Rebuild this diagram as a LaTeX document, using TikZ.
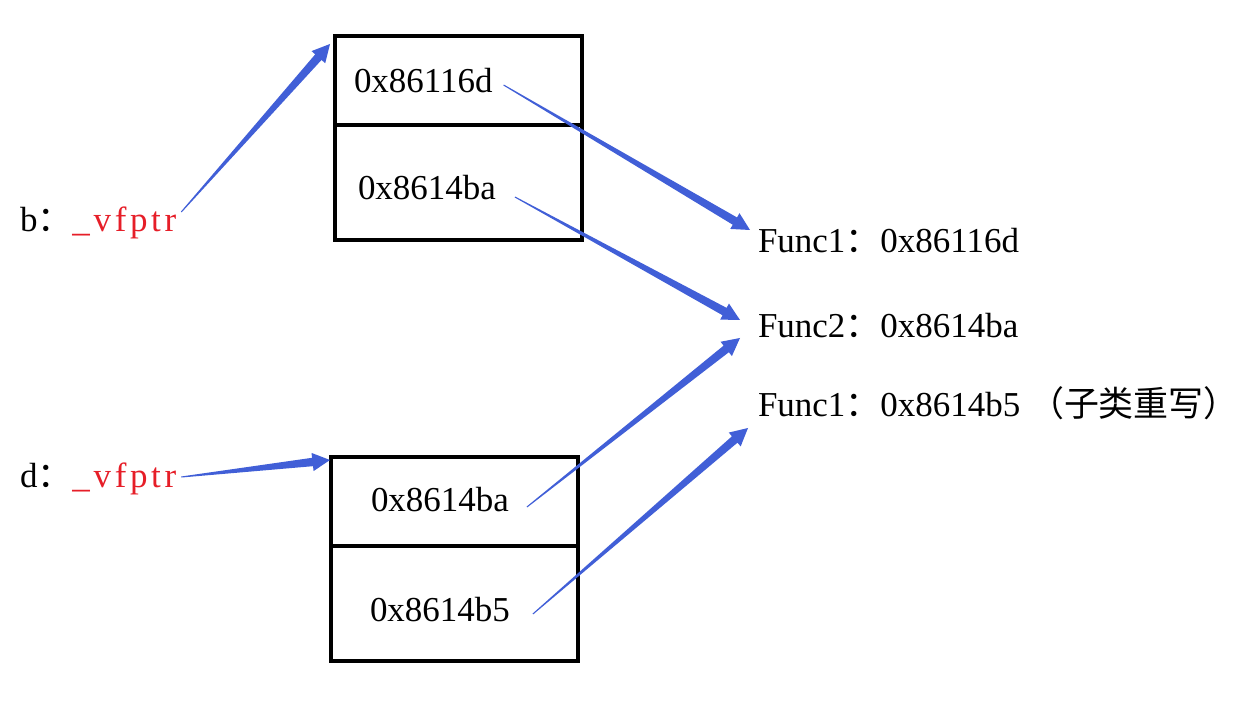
\documentclass[tikz,border=0pt]{standalone}
\usepackage{fontspec}
\setmainfont{Liberation Serif}
\newfontfamily\cjk{Noto Sans CJK SC}
\newfontfamily\vfont{Liberation Serif}[LetterSpace=10.5]
\usetikzlibrary{calc}
\definecolor{ptrblue}{RGB}{65,95,215}
\definecolor{ptrred}{RGB}{230,30,40}

% tapered pointer: thin at #1, wide with a head at #2
\newcommand{\vptr}[2]{%
  \fill[ptrblue] ($(#1)!0.3pt!90:(#2)$)
    -- ($(#2)!10pt!(#1)!2.4pt!90:(#2)$)
    -- ($(#2)!10pt!(#1)!5.2pt!90:(#2)$)
    -- (#2)
    -- ($(#2)!10pt!(#1)!5.2pt!-90:(#2)$)
    -- ($(#2)!10pt!(#1)!2.4pt!-90:(#2)$)
    -- ($(#1)!0.3pt!-90:(#2)$) -- cycle;}

\begin{document}
\begin{tikzpicture}[every node/.style={inner sep=0pt, outer sep=0pt, font=\fontsize{19.9pt}{24pt}\selectfont},
    cell/.style={draw, line width=1.8pt, minimum width=4.94cm},
    cellhi/.style={cell, minimum height=1.78cm},
    celllo/.style={cell, minimum height=2.30cm}]
    \useasboundingbox (0,0) rectangle (24.8,14.2);
    % base table
    \node[cellhi] (t1) at (9.17,12.59) {};
    \node[celllo] (t2) at (9.17,10.55) {};
    \node[anchor=base west] (v1) at (7.08,12.34) {0x86116d};
    \node[anchor=base west] (v2) at (7.16,10.20) {0x8614ba};
    % derived table
    \node[cellhi] (c1) at (9.09,4.17) {};
    \node[celllo] (c2) at (9.09,2.13) {};
    \node[anchor=base west] (v3) at (7.42,3.98) {0x8614ba};
    \node[anchor=base west] (v4) at (7.40,1.78) {0x8614b5};
    % pointers on the left
    \node[anchor=base west] (b) at (0.40,9.56) {b{\cjk ：}\textcolor{ptrred}{\vfont\_vfptr}};
    \node[anchor=base west] (d) at (0.40,4.44) {d{\cjk ：}\textcolor{ptrred}{\vfont\_vfptr}};
    % function entries
    \node[anchor=base west] (f1) at (15.16,9.14) {Func1{\cjk ：}0x86116d};
    \node[anchor=base west] (f2) at (15.16,7.44) {Func2{\cjk ：}0x8614ba};
    \node[anchor=base west] (f3) at (15.16,5.86) {Func1{\cjk ：}0x8614b5 {\cjk （子类重写）}};
    % arrow ends
    \coordinate (bs) at ($(b.base east)+(0.10,0.40)$);
    \coordinate (be) at ($(t1.north west)+(-0.10,-0.16)$);
    \coordinate (ds) at ($(d.base east)+(0.10,0.22)$);
    \coordinate (de) at ($(c1.north west)+(-0.02,-0.06)$);
    \coordinate (v1s) at ($(v1.base east)+(0.22,0.16)$);
    \coordinate (v2s) at ($(v2.base east)+(0.38,0.06)$);
    \coordinate (v3s) at ($(v3.base east)+(0.36,0.08)$);
    \coordinate (v4s) at ($(v4.base east)+(0.46,0.14)$);
    \coordinate (f1e) at ($(f1.base west)+(-0.16,0.46)$);
    \coordinate (f2e) at ($(f2.base west)+(-0.36,0.36)$);
    \coordinate (f2f) at ($(f2.base west)+(-0.36,0.00)$);
    \coordinate (f3e) at ($(f3.base west)+(-0.20,-0.22)$);
    \vptr{bs}{be}
    \vptr{ds}{de}
    \vptr{v1s}{f1e}
    \vptr{v2s}{f2e}
    \vptr{v3s}{f2f}
    \vptr{v4s}{f3e}
\end{tikzpicture}
\end{document}
